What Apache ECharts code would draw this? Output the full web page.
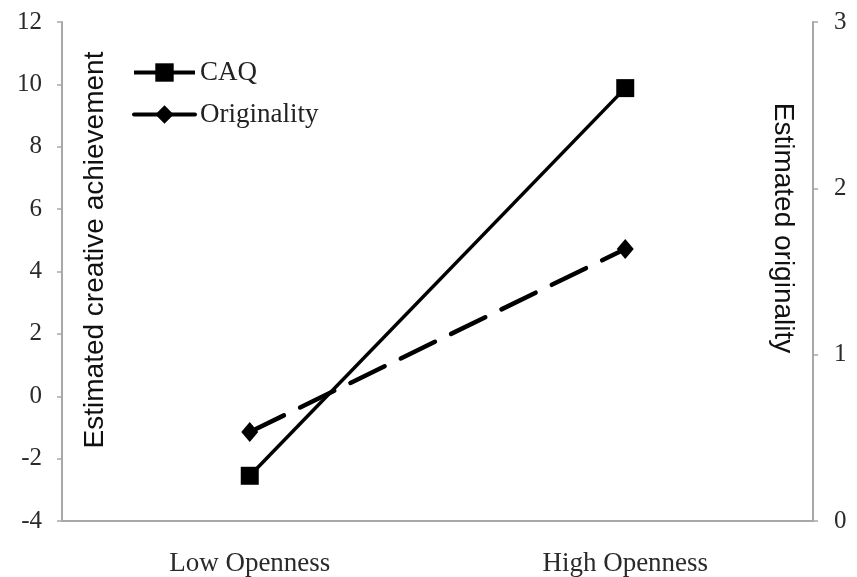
<!DOCTYPE html>
<html>
<head>
<meta charset="utf-8">
<script src="https://cdn.jsdelivr.net/npm/echarts@6/dist/echarts.min.js"></script>
<style>html,body{margin:0;padding:0;background:#fff}#chart{width:857px;height:577px}</style>
</head>
<body>
<div id="chart"></div>
<script>
// openness vs creative achievement / originality
const categories = ['Low Openness', 'High Openness'];
const caqValues = [-2.55, 9.88];
const originalityValues = [0.535, 1.635];
const leftTicks = [-4, -2, 0, 2, 4, 6, 8, 10, 12];
const rightTicks = [0, 1, 2, 3];

const serif = '"Liberation Serif", "Times New Roman", serif';
const sans = '"Liberation Sans", Arial, sans-serif';

const chart = echarts.init(document.getElementById('chart'));

const option = {
    animation: false,
    grid: {left: 62, right: 44, top: 22, bottom: 56},
    legend: {
        left: 132, top: 59, orient: 'vertical', itemGap: 15, padding: 0,
        itemWidth: 61, itemHeight: 23,
        textStyle: {fontFamily: serif, fontSize: 27, color: '#222'},
        data: [
            {name: 'CAQ', lineStyle: {width: 4, type: 'solid'}},
            {name: 'Originality', lineStyle: {width: 4, type: 'solid'}}
        ]
    },
    xAxis: {
        type: 'category', data: categories,
        axisLine: {onZero: false, lineStyle: {color: '#a8a8a8', width: 2}},
        axisTick: {show: false},
        axisLabel: {fontFamily: serif, fontSize: 27, color: '#2a2a2a', margin: 29}
    },
    yAxis: [
        {
            type: 'value', min: leftTicks[0], max: leftTicks[leftTicks.length - 1], interval: 2,
            splitLine: {show: false},
            axisLine: {show: true, lineStyle: {color: '#a8a8a8', width: 2}},
            axisTick: {show: true, length: 5, lineStyle: {color: '#a8a8a8', width: 1.5}},
            axisLabel: {fontFamily: serif, fontSize: 25, color: '#2a2a2a', margin: 20}
        },
        {
            type: 'value', min: rightTicks[0], max: rightTicks[rightTicks.length - 1], interval: 1,
            position: 'right',
            splitLine: {show: false},
            axisLine: {show: true, lineStyle: {color: '#a8a8a8', width: 2}},
            axisTick: {show: true, length: 5, lineStyle: {color: '#a8a8a8', width: 1.5}},
            axisLabel: {fontFamily: serif, fontSize: 25, color: '#2a2a2a', margin: 21}
        }
    ],
    graphic: [
        {
            type: 'text', x: 95, y: 250, rotation: Math.PI / 2,
            style: {text: 'Estimated creative achievement', font: '28px ' + sans, fill: '#111',
                align: 'center', verticalAlign: 'middle'}
        },
        {
            type: 'text', x: 783, y: 228, rotation: -Math.PI / 2,
            style: {text: 'Estimated originality', font: '28px ' + sans, fill: '#111',
                align: 'center', verticalAlign: 'middle'}
        }
    ],
    series: [
        {
            name: 'CAQ', type: 'line', yAxisIndex: 0, data: caqValues,
            symbol: 'rect', symbolSize: 18,
            lineStyle: {color: '#000', width: 3.5},
            itemStyle: {color: '#000'}
        },
        {
            name: 'Originality', type: 'line', yAxisIndex: 1, data: originalityValues,
            symbol: 'diamond', symbolSize: [17, 20],
            lineStyle: {color: '#000', width: 4.5, type: [38, 18], cap: 'round'},
            itemStyle: {color: '#000'}
        }
    ]
};

chart.setOption(option);
</script>
</body>
</html>
